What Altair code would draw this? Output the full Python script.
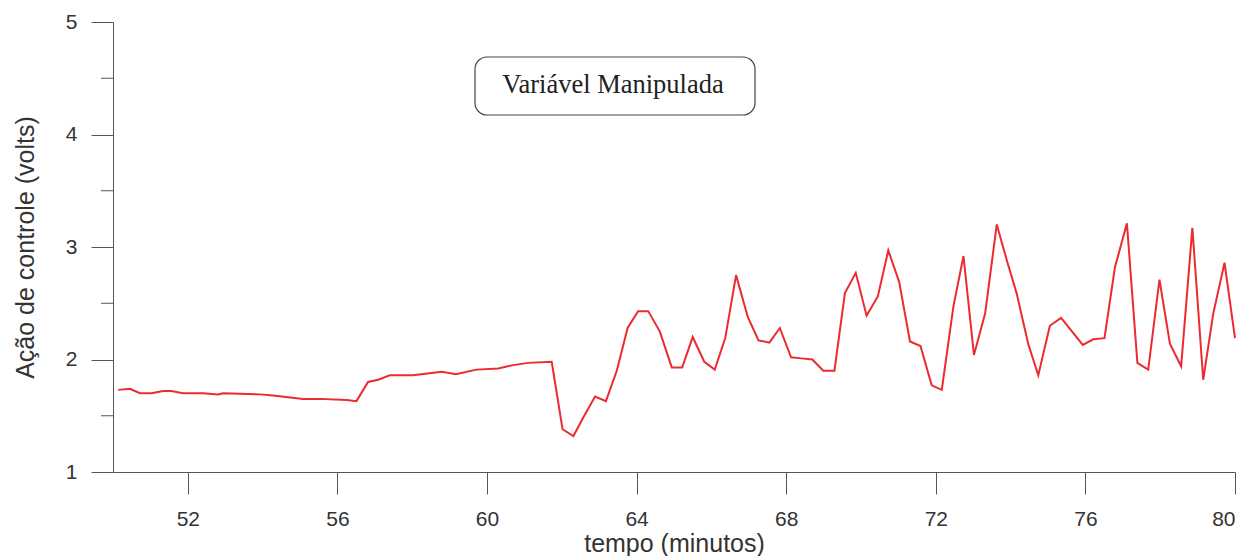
import altair as alt
import pandas as pd

tempo = [50.14, 50.45, 50.72, 51.03, 51.34, 51.56, 51.87, 52.41, 52.81, 52.94,
         53.93, 54.28, 55.08, 55.53, 56.25, 56.51, 56.82, 57.09, 57.40, 57.67,
         58.02, 58.79, 59.17, 59.72, 60.30, 60.70, 61.10, 61.73, 62.02, 62.31,
         62.60, 62.89, 63.18, 63.47, 63.76, 64.04, 64.31, 64.62, 64.94, 65.22,
         65.50, 65.81, 66.09, 66.37, 66.66, 66.97, 67.26, 67.55, 67.83, 68.13,
         68.41, 68.70, 68.99, 69.29, 69.57, 69.86, 70.15, 70.45, 70.73, 71.02,
         71.31, 71.59, 71.89, 72.16, 72.47, 72.74, 73.02, 73.32, 73.63, 73.90,
         74.16, 74.47, 74.74, 75.05, 75.35, 75.64, 75.93, 76.21, 76.51, 76.79,
         77.11, 77.39, 77.68, 77.98, 78.26, 78.56, 78.86, 79.15, 79.42, 79.72,
         80.00]
volts = [1.73, 1.74, 1.70, 1.70, 1.72, 1.72, 1.70, 1.70, 1.69, 1.70,
         1.69, 1.68, 1.65, 1.65, 1.64, 1.63, 1.80, 1.82, 1.86, 1.86,
         1.86, 1.89, 1.87, 1.91, 1.92, 1.95, 1.97, 1.98, 1.38, 1.32,
         1.50, 1.67, 1.63, 1.90, 2.28, 2.43, 2.43, 2.25, 1.93, 1.93,
         2.20, 1.98, 1.91, 2.19, 2.75, 2.38, 2.17, 2.15, 2.28, 2.02,
         2.01, 2.00, 1.90, 1.90, 2.59, 2.77, 2.39, 2.56, 2.97, 2.69,
         2.16, 2.12, 1.77, 1.73, 2.47, 2.92, 2.04, 2.41, 3.20, 2.88,
         2.59, 2.14, 1.86, 2.30, 2.37, 2.25, 2.13, 2.18, 2.19, 2.82,
         3.21, 1.97, 1.91, 2.71, 2.14, 1.94, 3.17, 1.82, 2.41, 2.86,
         2.19]

x_ticks = [52, 56, 60, 64, 68, 72, 76, 80]
y_ticks = [1, 2, 3, 4, 5]
y_minor = [1.5, 2.5, 3.5, 4.5]
note = ["Variável Manipulada"]

df = pd.DataFrame({"tempo": tempo, "volts": volts})

x_scale = alt.Scale(domain=[50, 80], nice=False, zero=False)
y_scale = alt.Scale(domain=[1, 5], nice=False, zero=False)

font = "Liberation Sans"
axis_color = "#555555"

x_axis = alt.Axis(values=x_ticks, title="tempo (minutos)", grid=False,
                  domainColor=axis_color, tickColor=axis_color,
                  tickSize=22, labelPadding=14, labelFontSize=21,
                  labelFont=font, labelColor="#333333",
                  titleFont=font, titleFontSize=25, titleFontWeight="normal",
                  titleColor="#333333", titlePadding=2)
y_axis = alt.Axis(values=y_ticks, title="Ação de controle (volts)", grid=False,
                  domainColor=axis_color, tickColor=axis_color,
                  tickSize=22, labelPadding=14, labelFontSize=21,
                  labelFont=font, labelColor="#333333",
                  titleFont=font, titleFontSize=25, titleFontWeight="normal",
                  titleColor="#333333", titlePadding=27)

line = alt.Chart(df).mark_line(color="#ec2a30", strokeWidth=2).encode(
    x=alt.X("tempo:Q", scale=x_scale, axis=x_axis),
    y=alt.Y("volts:Q", scale=y_scale, axis=y_axis),
)

minor = alt.Chart(pd.DataFrame({"volts": y_minor})).mark_rule(
    color=axis_color, strokeWidth=1).encode(
    y=alt.Y("volts:Q", scale=y_scale, axis=y_axis),
    x=alt.value(-12), x2=alt.value(0),
)

box = alt.Chart(pd.DataFrame({"label": note})).mark_rect(
    fill="white", stroke="#444444", strokeWidth=1.2, cornerRadius=12).encode(
    x=alt.value(362), x2=alt.value(642), y=alt.value(35), y2=alt.value(93),
)

label = alt.Chart(pd.DataFrame({"label": note})).mark_text(
    font="Liberation Serif", fontSize=26.5, color="#222222",
    align="center", baseline="middle").encode(
    x=alt.value(500), y=alt.value(63), text="label:N",
)

chart = alt.layer(line, minor, box, label).properties(
    width=1122, height=450,
    background="white",
    autosize=alt.AutoSizeParams(type="none"),
    padding={"left": 105, "top": 14, "right": 16, "bottom": 84},
).configure_view(strokeWidth=0, stroke="transparent")

chart.save("out.html", embed_options={"renderer": "svg", "actions": False})
